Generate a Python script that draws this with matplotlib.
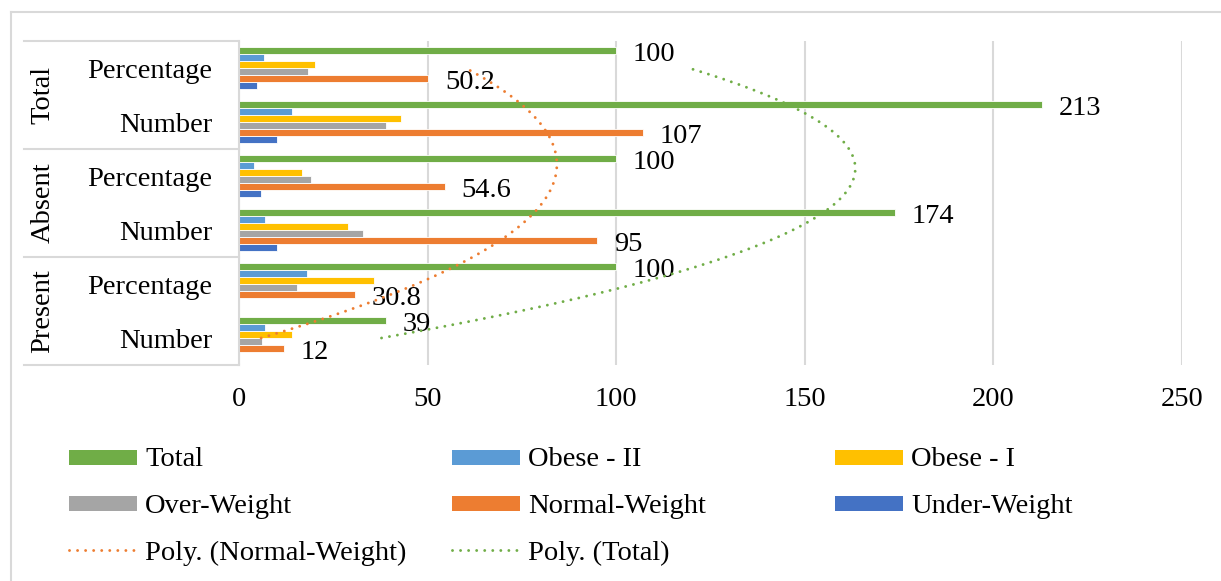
import numpy as np
import matplotlib.pyplot as plt
from matplotlib.lines import Line2D
from matplotlib.patches import Rectangle

plt.rcParams['font.family'] = ['Liberation Serif', 'DejaVu Serif']
FS = 20.5

# categories, bottom to top
groups = ['Present', 'Absent', 'Total']
sub = ['Number', 'Percentage']

series = ['Under-Weight', 'Normal-Weight', 'Over-Weight', 'Obese - I', 'Obese - II', 'Total']
colors = ['#4472C4', '#ED7D31', '#A5A5A5', '#FFC000', '#5B9BD5', '#70AD47']

# values per category: Present Number, Present %, Absent Number, Absent %, Total Number, Total %
under_weight = [0, 0, 10, 5.7, 10, 4.7]
normal_weight = [12, 30.8, 95, 54.6, 107, 50.2]
over_weight = [6, 15.4, 33, 19.0, 39, 18.3]
obese_1 = [14, 35.9, 29, 16.7, 43, 20.2]
obese_2 = [7, 17.9, 7, 4.0, 14, 6.6]
total = [39, 100, 174, 100, 213, 100]

data = [under_weight, normal_weight, over_weight, obese_1, obese_2, total]

DOTS = (0, (0.01, 2.75))

fig = plt.figure(figsize=(12.21, 5.81), dpi=100)
ax = fig.add_axes([239 / 1221, 1 - 365 / 581, 943 / 1221, 324 / 581])

pos = np.arange(6)
h = 0.13
for i, (vals, c) in enumerate(zip(data, colors)):
    ax.barh(pos + (i - 2.5) * h, vals, height=h, color=c,
            edgecolor='white', linewidth=0.6, zorder=2)

# data labels on Normal-Weight and Total
for i in (1, 5):
    for p, v in zip(pos, data[i]):
        ax.annotate(f'{v:g}', (v, p + (i - 2.5) * h), xytext=(12, -3),
                    textcoords='offset points', ha='left', va='center',
                    fontsize=FS, zorder=3)

# polynomial (order 2) trendlines
t = np.linspace(0, 5, 200)
for vals, c in ((normal_weight, '#ED7D31'), (total, '#70AD47')):
    coef = np.polyfit(pos, vals, 2)
    ax.plot(np.polyval(coef, t), t, color=c, lw=2.1, linestyle=DOTS,
            dash_capstyle='round', zorder=3)

ax.set_xlim(0, 250)
ax.set_ylim(-0.5, 5.5)
ax.set_xticks(np.arange(0, 251, 50))
ax.grid(axis='x', color='#d9d9d9', lw=1.5, zorder=0)
ax.set_axisbelow(True)
for s in ('top', 'right', 'bottom'):
    ax.spines[s].set_visible(False)
ax.spines['left'].set_color('#d9d9d9')
ax.spines['left'].set_linewidth(1.5)
ax.tick_params(axis='x', length=0, labelsize=FS, pad=16)
ax.set_yticks(pos)
ax.set_yticklabels(sub * 3)
ax.tick_params(axis='y', length=0, labelsize=FS, pad=19)

# category table on the left
tr = ax.get_yaxis_transform()
x_left = (24 - 239) / 943
for yb in (-0.5, 1.5, 3.5, 5.5):
    ax.plot([x_left, 0], [yb, yb], transform=tr, color='#d9d9d9', lw=1.5, clip_on=False)
for k, g in enumerate(groups):
    ax.text((43 - 239) / 943, 2 * k + 0.5, g, transform=tr, rotation=90,
            ha='center', va='center', fontsize=FS)

# legend
entries = [('Total', '#70AD47', 'bar'), ('Obese - II', '#5B9BD5', 'bar'), ('Obese - I', '#FFC000', 'bar'),
           ('Over-Weight', '#A5A5A5', 'bar'), ('Normal-Weight', '#ED7D31', 'bar'), ('Under-Weight', '#4472C4', 'bar'),
           ('Poly. (Normal-Weight)', '#ED7D31', 'line'), ('Poly. (Total)', '#70AD47', 'line')]
W, H = 1221, 581
for n, (lab, c, kind) in enumerate(entries):
    x0 = 69 + 383 * (n % 3)
    yc = 457 + 46.5 * (n // 3)
    if kind == 'bar':
        fig.add_artist(Rectangle((x0 / W, 1 - (yc + 7.5) / H), 68 / W, 15 / H,
                                 transform=fig.transFigure, color=c, lw=0))
    else:
        fig.add_artist(Line2D([x0 / W, (x0 + 68) / W], [1 - yc / H] * 2,
                              transform=fig.transFigure, color=c, lw=2.1,
                              linestyle=DOTS, dash_capstyle='round'))
    fig.text((x0 + 76) / W, 1 - (yc + 3) / H, lab, ha='left', va='center', fontsize=FS)

# chart border
fig.add_artist(Line2D([11 / W, 11 / W], [0, 1 - 12 / H], transform=fig.transFigure, color='#d9d9d9', lw=1.5))
fig.add_artist(Line2D([11 / W, 1], [1 - 12 / H, 1 - 12 / H], transform=fig.transFigure, color='#d9d9d9', lw=1.5))

fig.savefig('out.png', dpi=100)
